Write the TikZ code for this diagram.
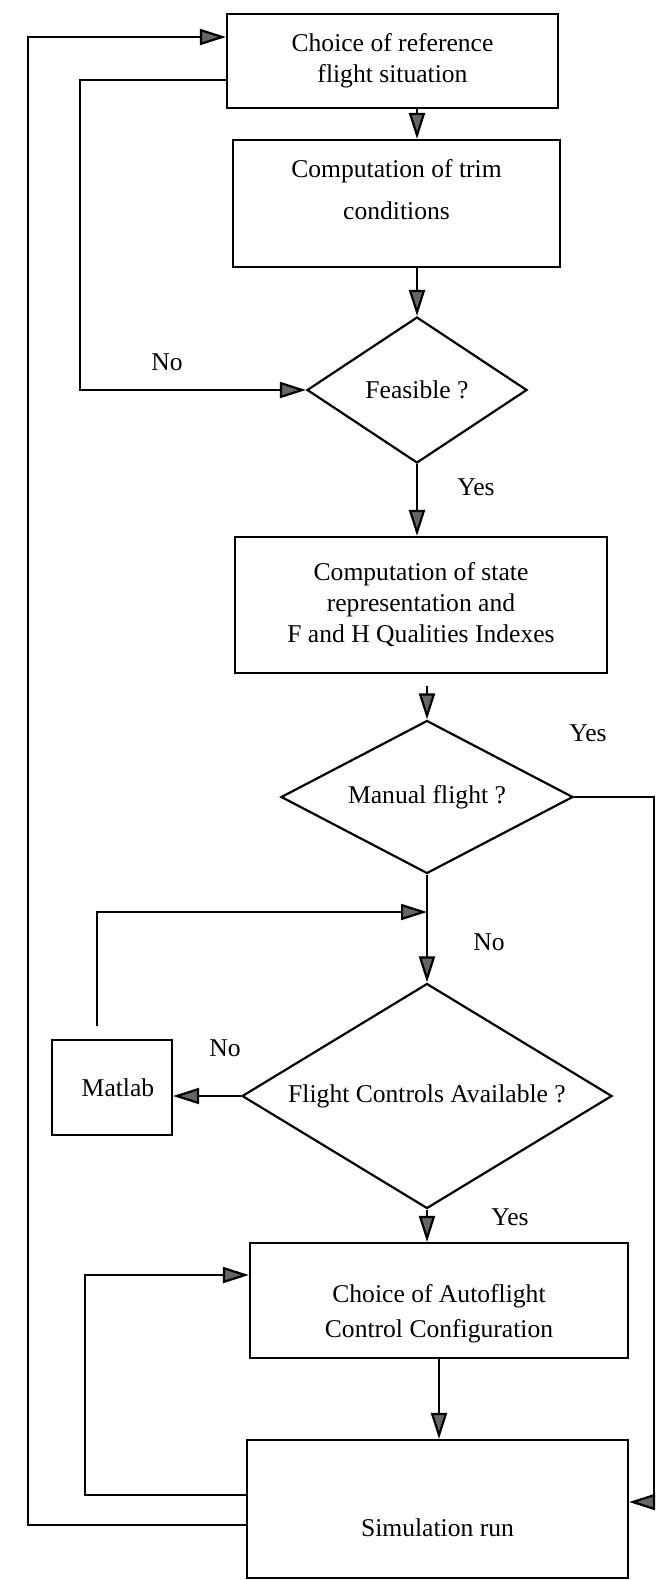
\documentclass[tikz,border=0pt]{standalone}
\usepackage{fontspec}
\setmainfont{Liberation Serif}
\usepackage{tikz}
\usetikzlibrary{shapes,arrows.meta}

\begin{document}
\begin{tikzpicture}[x=0.5pt, y=-0.5pt, font=\fontsize{12.8}{15.5}\selectfont]
		\tikzstyle{Box}		= [rectangle, draw, line width=1.1pt, align=center, inner sep=0pt]
		\tikzstyle{Decision}	= [diamond, draw, line width=1.1pt, align=center, inner sep=0pt]
		\tikzstyle{Flow}	= [line width=1.1pt, -{Triangle[length=13pt, width=8pt, fill=black!60]}]
		\tikzstyle{Answer}	= [inner sep=0pt]

		\useasboundingbox (0,0) rectangle (664,1580);

		\node (choice) at (392.5,61) [Box, minimum width=165.5pt, minimum height=47pt] {Choice of reference\\flight situation};
		\node (trim) at (396.5,203.5) [Box, minimum width=163.5pt, minimum height=63.5pt] {Computation of trim\\[5.5pt]conditions\\[-1pt]\mbox{}};
		\node (feas) at (417,390) [Decision, aspect=1.5, minimum width=110pt, minimum height=73pt] {Feasible ?};
		\node (state) at (421,605) [Box, minimum width=186pt, minimum height=68pt] {Computation of state\\representation and\\F and H Qualities Indexes};
		\node (manual) at (427,797) [Decision, aspect=1.9, minimum width=146pt, minimum height=76.5pt] {Manual flight ?};
		\node (fcav) at (427,1096) [Decision, aspect=1.64, minimum width=185pt, minimum height=112.5pt] {Flight Controls Available ?};
		\node (matlab) at (112,1087.5) [Box, minimum width=60pt, minimum height=47.5pt] {\hspace{6pt}Matlab};
		\node (auto) at (439,1300.5) [Box, minimum width=189pt, minimum height=57.5pt] {\mbox{}\\[6.5pt]Choice of Autoflight\\[2pt]Control Configuration};
		\node (sim) at (437.5,1509) [Box, minimum width=190.5pt, minimum height=69pt] {\mbox{}\\[12.5pt]Simulation run};

		\node (no1) at (167,362) [Answer] {No};
		\node (yes1) at (476,487) [Answer] {Yes};
		\node (yes2) at (588,733) [Answer] {Yes};
		\node (no2) at (489,942) [Answer] {No};
		\node (no3) at (225,1048) [Answer] {No};
		\node (yes3) at (510,1217) [Answer] {Yes};

		\coordinate (outerT) at (28,37);
		\coordinate (outerB) at (28,1525);
		\coordinate (redoT) at (80,80);
		\coordinate (yesR) at (654,1502);
		\coordinate (backT) at (97,912);
		\coordinate (loopT) at (85,1275);
		\coordinate (loopB) at (85,1495);

		\draw [Flow] (sim.west |- outerB) -- (outerB) -- (outerT) -- (choice.west |- outerT);
		\draw [Flow] (choice.west |- redoT) -- (redoT) |- (feas.west);
		\draw [Flow] (choice.south -| feas.north) -- (trim.north -| feas.north);
		\draw [Flow] (trim.south -| feas.north) -- (feas.north);
		\draw [Flow] (feas.south) -- (state.north -| feas.south);
		\draw [Flow, shorten <=6pt] (state.south -| manual.north) -- (manual.north);
		\draw [Flow] (manual.east) -| (yesR) -- (sim.east |- yesR);
		\draw [Flow] (manual.south) -- (fcav.north);
		\draw [Flow, shorten <=6.5pt] (matlab.north -| backT) -- (backT) -- (backT -| fcav.north);
		\draw [Flow] (fcav.west) -- (matlab.east |- fcav.west);
		\draw [Flow] (fcav.south) -- (auto.north -| fcav.south);
		\draw [Flow] (auto.south) -- (sim.north -| auto.south);
		\draw [Flow] (sim.west |- loopB) -- (loopB) -- (loopT) -- (auto.west |- loopT);
	\end{tikzpicture}
\end{document}
